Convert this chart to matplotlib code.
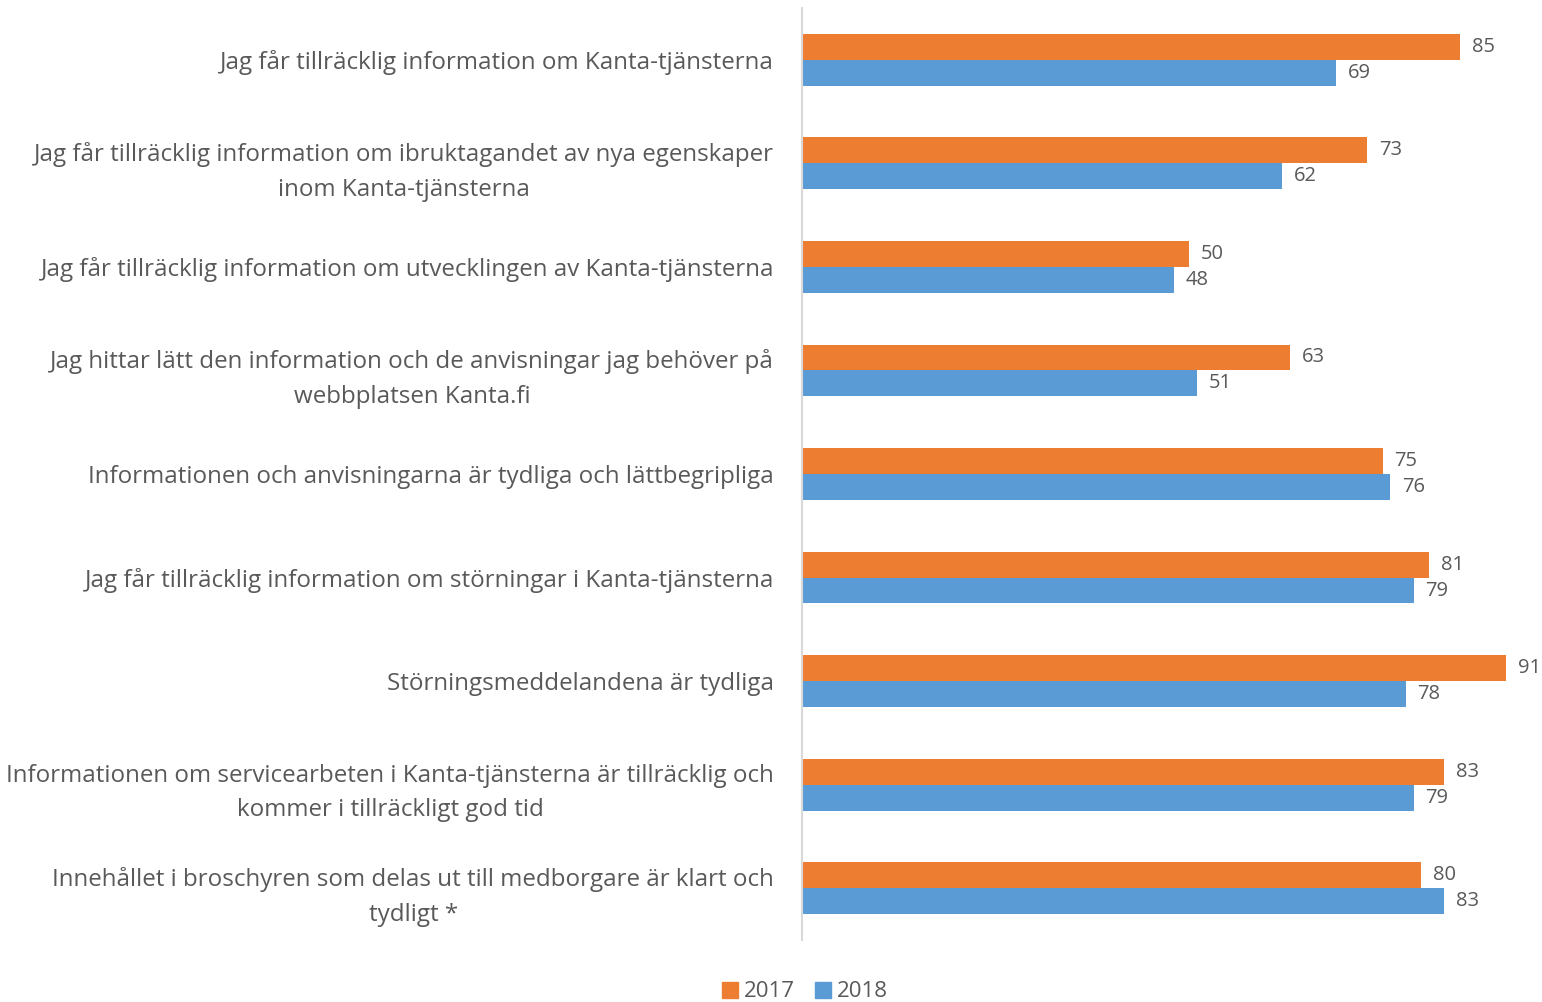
import matplotlib.pyplot as plt
from matplotlib.lines import Line2D
import numpy as np

plt.rcParams['font.family'] = ['Open Sans', 'DejaVu Sans']

# categories (top to bottom) and values
categories = [
    'Jag får tillräcklig information om Kanta-tjänsterna',
    'Jag får tillräcklig information om ibruktagandet av nya egenskaper\ninom Kanta-tjänsterna',
    'Jag får tillräcklig information om utvecklingen av Kanta-tjänsterna',
    'Jag hittar lätt den information och de anvisningar jag behöver på\nwebbplatsen Kanta.fi',
    'Informationen och anvisningarna är tydliga och lättbegripliga',
    'Jag får tillräcklig information om störningar i Kanta-tjänsterna',
    'Störningsmeddelandena är tydliga',
    'Informationen om servicearbeten i Kanta-tjänsterna är tillräcklig och\nkommer i tillräckligt god tid',
    'Innehållet i broschyren som delas ut till medborgare är klart och\ntydligt *',
]
values_2017 = [85, 73, 50, 63, 75, 81, 91, 83, 80]
values_2018 = [69, 62, 48, 51, 76, 79, 78, 79, 83]
years = ['2017', '2018']

c17 = '#ED7D31'
c18 = '#5B9BD5'
grey = '#595959'

fig = plt.figure(figsize=(15.42, 10.02), dpi=100)
ax = fig.add_axes([802 / 1542, 62 / 1002, 740 / 1542, 932 / 1002])

y = np.arange(len(categories))
h = 0.25
ax.barh(y - h / 2, values_2017, height=h, color=c17)
ax.barh(y + h / 2, values_2018, height=h, color=c18)

for yi, v in zip(y, values_2017):
    ax.annotate(str(v), (v, yi - h / 2), xytext=(8.5, 0), textcoords='offset points',
                ha='left', va='center', fontsize=14.5, color=grey)
for yi, v in zip(y, values_2018):
    ax.annotate(str(v), (v, yi + h / 2), xytext=(8.5, 0), textcoords='offset points',
                ha='left', va='center', fontsize=14.5, color=grey)

ax.set_xlim(0, 95.6)
ax.set_ylim(len(categories) - 0.5, -0.5)
ax.set_yticks(y)
ax.set_yticklabels(categories, fontsize=17.4, color=grey, multialignment='center', linespacing=1.6)
ax.tick_params(axis='y', length=0, pad=20)
ax.set_xticks([])
for s in ['top', 'right', 'bottom']:
    ax.spines[s].set_visible(False)
ax.spines['left'].set_color('#d9d9d9')
ax.spines['left'].set_linewidth(1.5)

handles = [Line2D([], [], marker='s', linestyle='', markersize=12, color=c) for c in (c17, c18)]
fig.legend(handles, years, loc='center', bbox_to_anchor=(0.521, 0.01), ncol=2, frameon=False,
           fontsize=16, labelcolor=grey, handletextpad=0.1, columnspacing=0.8, handlelength=1)

plt.savefig('out.png', dpi=100)
